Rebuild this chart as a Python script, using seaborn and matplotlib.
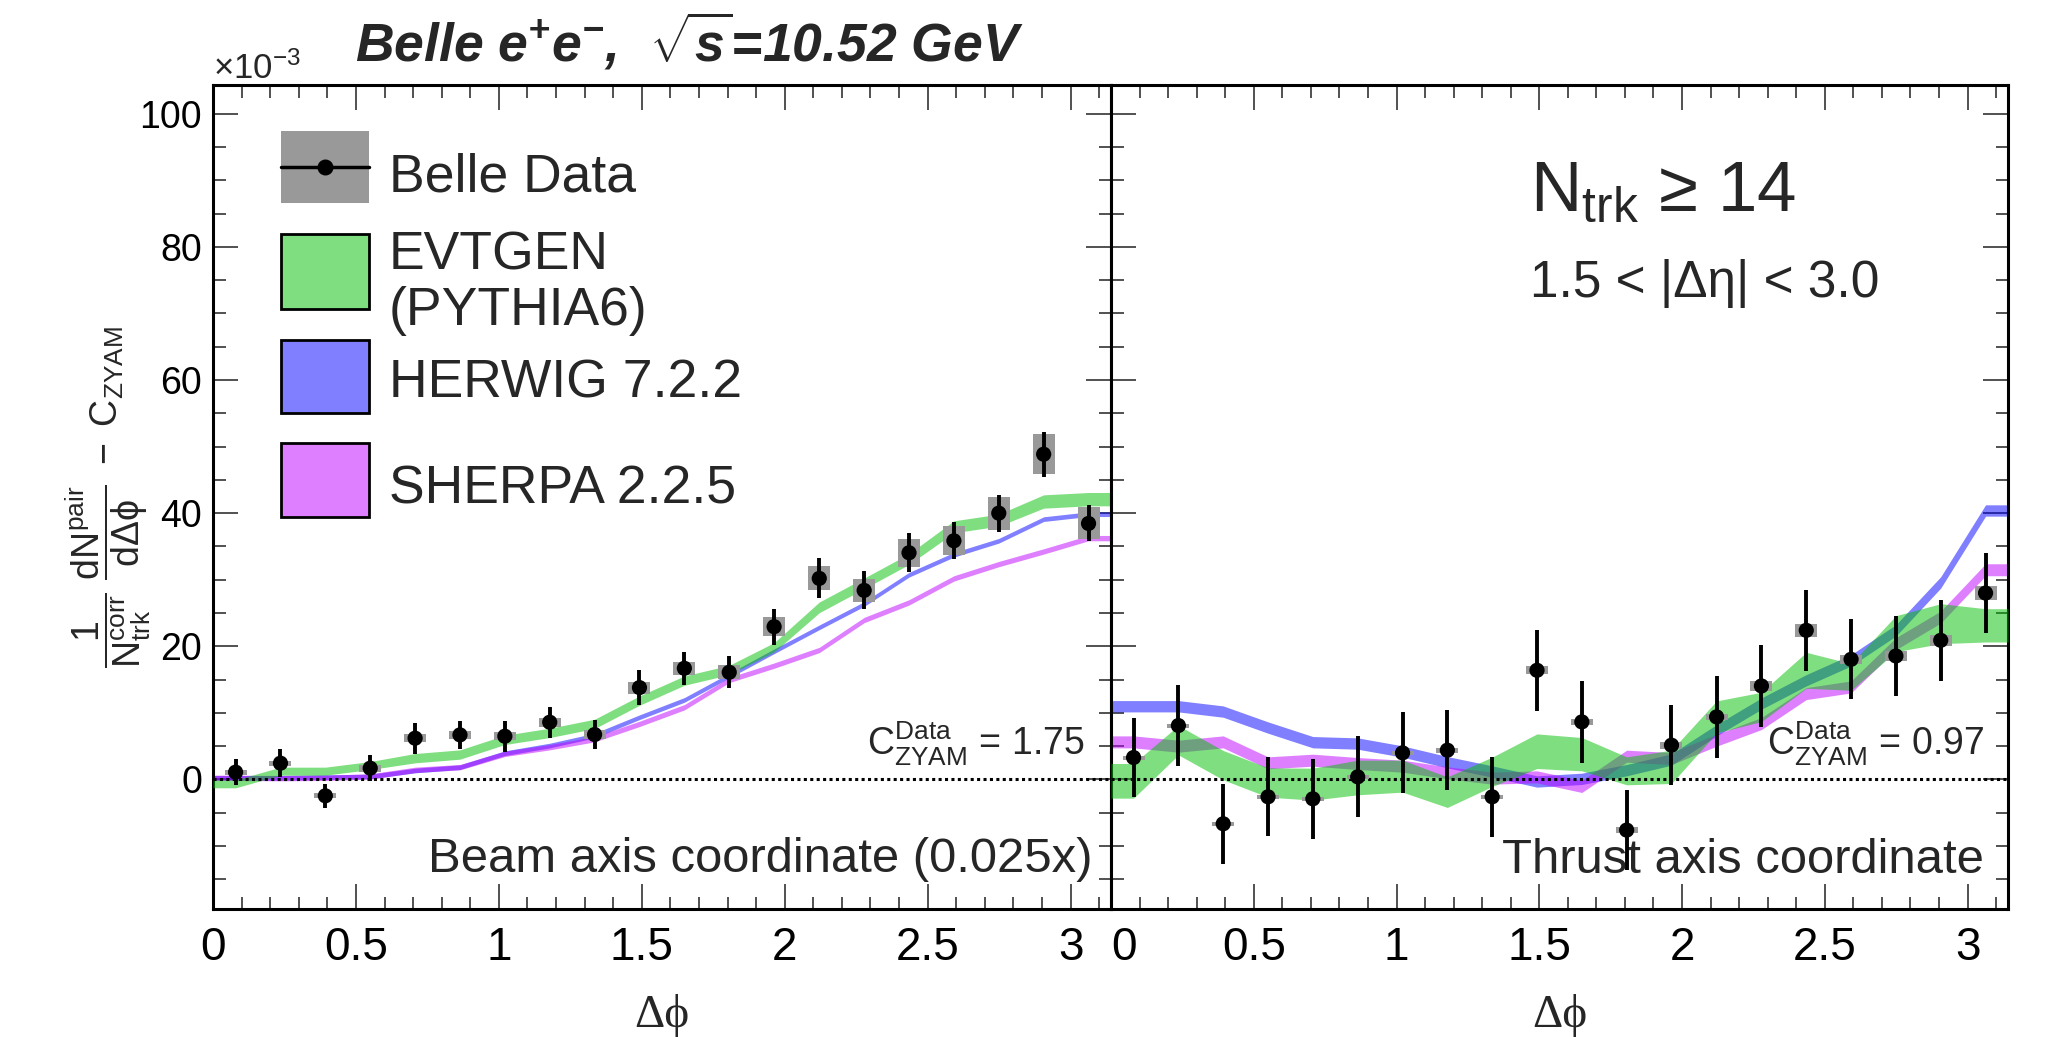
import numpy as np
import matplotlib
matplotlib.use("Agg")
import matplotlib.pyplot as plt
import seaborn as sns
from matplotlib.patches import Rectangle
from matplotlib.lines import Line2D
from matplotlib.ticker import MultipleLocator

# ---------------- data (values in units of 1e-3) ----------------
dphi = [0.079, 0.236, 0.393, 0.550, 0.707, 0.864, 1.021, 1.178, 1.335, 1.492,
        1.649, 1.806, 1.963, 2.121, 2.278, 2.435, 2.592, 2.749, 2.906, 3.063]

# Beam axis coordinate (0.025x)
beam_data = [1.1, 2.45, -2.45, 1.7, 6.2, 6.7, 6.5, 8.6, 6.75, 13.8,
             16.7, 16.1, 22.95, 30.2, 28.4, 34.05, 35.85, 40.0, 48.85, 38.45]
beam_stat = [2.0, 2.1, 1.8, 2.0, 2.3, 2.1, 2.3, 2.3, 2.2, 2.6,
             2.45, 2.4, 2.7, 3.0, 2.85, 2.9, 2.8, 2.8, 3.4, 2.7]
beam_syst = [0.4, 0.4, 0.4, 0.5, 0.6, 0.6, 0.6, 0.7, 0.7, 0.9,
             0.95, 1.05, 1.4, 1.8, 1.7, 2.1, 2.2, 2.5, 3.0, 2.4]
beam_evtgen = [-0.65, 1.25, 1.25, 2.1, 3.2, 3.75, 5.95, 7.0, 8.35, 11.85,
               14.85, 16.45, 19.85, 25.85, 29.45, 33.1, 37.95, 38.95, 41.75, 42.1]
beam_evtgen_err = [0.6, 0.6, 0.6, 0.6, 0.7, 0.7, 0.7, 0.7, 0.7, 0.7,
                   0.7, 0.7, 0.7, 0.8, 0.8, 0.8, 0.9, 0.9, 1.0, 1.0]
beam_herwig = [0.25, 0.25, 0.35, 0.45, 1.35, 1.85, 3.95, 5.1, 6.6, 9.35,
               11.95, 15.6, 19.25, 22.85, 26.35, 30.75, 33.75, 35.85, 39.1, 39.85]
beam_herwig_err = [0.35] * 20
beam_sherpa = [0.25, 0.2, 0.25, 0.45, 1.45, 1.85, 3.85, 4.85, 6.05, 8.35,
               10.85, 14.95, 17.1, 19.45, 23.95, 26.6, 30.2, 32.35, 34.25, 36.25]
beam_sherpa_err = [0.4] * 20

# Thrust axis coordinate
thr_data = [3.3, 8.1, -6.65, -2.6, -2.9, 0.4, 4.0, 4.4, -2.6, 16.4,
            8.65, -7.6, 5.15, 9.4, 14.05, 22.4, 18.05, 18.55, 20.9, 28.0]
thr_stat = [6.0, 6.1, 6.0, 5.95, 6.05, 6.1, 6.1, 6.05, 6.05, 6.1,
            6.1, 6.0, 6.0, 6.1, 6.1, 6.05, 6.0, 6.0, 6.05, 6.0]
thr_syst = [0.3, 0.3, 0.3, 0.3, 0.3, 0.3, 0.3, 0.4, 0.3, 0.6,
            0.5, 0.4, 0.5, 0.5, 0.7, 1.0, 0.7, 0.8, 0.8, 1.0]
thr_evtgen = [-0.2, 5.9, 2.15, -0.45, -0.7, 0.3, 0.5, -1.9, 1.15, 4.25,
              3.8, 1.3, 1.9, 9.4, 10.9, 16.4, 15.4, 21.9, 23.4, 23.15]
thr_evtgen_err = [2.6, 2.2, 2.2, 2.2, 2.4, 2.6, 2.4, 2.3, 2.2, 2.6,
                  2.5, 2.1, 2.5, 2.4, 2.2, 2.7, 2.0, 2.7, 3.0, 2.5]
thr_herwig = [11.0, 11.0, 10.2, 7.8, 5.6, 5.4, 4.2, 2.6, 1.2, -0.3,
              0.1, 1.4, 3.0, 7.4, 11.4, 14.9, 17.9, 22.4, 29.6, 40.4]
thr_herwig_err = [0.85] * 20
thr_sherpa = [5.65, 5.0, 5.65, 2.5, 2.9, 2.4, 2.0, 1.0, 0.2, 0.4,
              -1.05, 3.5, 3.15, 5.9, 8.4, 12.9, 13.9, 20.4, 24.4, 31.5]
thr_sherpa_err = [0.9] * 20

czyam_beam = "1.75"
czyam_thr = "0.97"
xtick_vals = [0, 0.5, 1, 1.5, 2, 2.5, 3]
xtick_text = ["0", "0.5", "1", "1.5", "2", "2.5", "3"]
ytick_vals = [0, 20, 40, 60, 80, 100]

COL_EVT = (0.0, 0.75, 0.0)
COL_HER = (0.0, 0.0, 1.0)
COL_SHE = (0.75, 0.0, 1.0)
COL_SYS = "#999999"

# ---------------- style ----------------
sns.set_theme(style="ticks")
plt.rcParams["font.family"] = ["Liberation Sans", "DejaVu Sans"]
plt.rcParams["mathtext.fontset"] = "custom"
plt.rcParams["mathtext.rm"] = "Liberation Sans"
plt.rcParams["mathtext.it"] = "Liberation Sans"
plt.rcParams["mathtext.sf"] = "Liberation Sans"
plt.rcParams["mathtext.bf"] = "Liberation Sans:bold:italic"
plt.rcParams["mathtext.default"] = "regular"

W, H = 2045, 1037
fig = plt.figure(figsize=(W / 100, H / 100), dpi=100)
fig.patch.set_facecolor("white")


def fx(px):
    return px / W


def fy(py):
    return 1 - py / H


X0, XM, X1, YT, YB = 213, 1111, 2008, 85, 909
axL = fig.add_axes([fx(X0), fy(YB), (XM - X0) / W, (YB - YT) / H])
axR = fig.add_axes([fx(XM), fy(YB), (X1 - XM) / W, (YB - YT) / H])


def draw_panel(ax, y, stat, syst, models):
    x = np.asarray(dphi)
    x_ext = np.concatenate([[0.0], x, [np.pi]])
    for z, (vals, err, col) in enumerate(models):
        v = np.asarray(vals, float)
        e = np.asarray(err, float)
        v_ext = np.concatenate([[v[0]], v, [v[-1]]])
        e_ext = np.concatenate([[e[0]], e, [e[-1]]])
        ax.fill_between(x_ext, v_ext - e_ext, v_ext + e_ext, color=col,
                        alpha=0.5, linewidth=0, zorder=1 + z)
    ax.axhline(0, color="black", linestyle=(0, (1, 1.1)), linewidth=2.2, zorder=5)
    y = np.asarray(y, float)
    syst = np.asarray(syst, float)
    ax.bar(x, 2 * syst, bottom=y - syst, width=0.077, color=COL_SYS,
           linewidth=0, zorder=6)
    ax.errorbar(x, y, yerr=stat, fmt="none", ecolor="black", elinewidth=2.8,
                capsize=0, zorder=7)
    sns.scatterplot(x=x, y=y, ax=ax, color="black", s=120, edgecolor="none",
                    zorder=8, legend=False)


draw_panel(axL, beam_data, beam_stat, beam_syst,
           [(beam_herwig, beam_herwig_err, COL_HER),
            (beam_sherpa, beam_sherpa_err, COL_SHE),
            (beam_evtgen, beam_evtgen_err, COL_EVT)])
draw_panel(axR, thr_data, thr_stat, thr_syst,
           [(thr_herwig, thr_herwig_err, COL_HER),
            (thr_sherpa, thr_sherpa_err, COL_SHE),
            (thr_evtgen, thr_evtgen_err, COL_EVT)])

for ax in (axL, axR):
    ax.set_facecolor("white")
    ax.set_xlim(0, np.pi)
    ax.set_ylim(-19.45, 104.3)
    ax.set_xticks(xtick_vals, labels=xtick_text)
    ax.set_yticks(ytick_vals)
    ax.xaxis.set_minor_locator(MultipleLocator(0.1))
    ax.yaxis.set_minor_locator(MultipleLocator(5))
    ax.tick_params(which="both", direction="in", top=True, bottom=True,
                   left=True, right=True, color="#222222", width=1.1)
    ax.tick_params(which="major", length=18)
    ax.tick_params(which="minor", length=9)
    ax.tick_params(axis="x", labelsize=33, pad=12, labelcolor="black")
    ax.tick_params(axis="y", labelsize=27, pad=8, labelcolor="black")
    for s in ax.spines.values():
        s.set_linewidth(2.2)
        s.set_color("black")
        s.set_visible(True)
    ax.grid(False)
    ax.set_xlabel("Δϕ", fontsize=34, family=["Liberation Serif", "DejaVu Serif"])
    ax.xaxis.label.set_va("baseline")
    ax.xaxis.set_label_coords(0.5, (YB - 1027) / (YB - YT))

axR.tick_params(axis="y", labelleft=False)
axR.get_xticklabels()[0].set_horizontalalignment("left")

axL.set_ylabel(r"$\dfrac{1}{N_{trk}^{corr}}\ \dfrac{dN^{pair}}{d\Delta\phi}\ -\ C_{ZYAM}$",
               fontsize=27)
axL.yaxis.set_label_coords((153 - X0) / (XM - X0), 0.5)

# ---------------- legend (manual, ROOT style) ----------------
def lx(px):
    return (px - X0) / (XM - X0)


def ly(py):
    return (YB - py) / (YB - YT)


box_x0, box_x1 = 281, 369
rows = [(131, 203, None), (234, 309, COL_EVT), (340, 413, COL_HER), (443, 517, COL_SHE)]
for top, bot, col in rows:
    if col is None:
        axL.add_patch(Rectangle((lx(box_x0), ly(bot)), lx(box_x1) - lx(box_x0),
                                ly(top) - ly(bot), transform=axL.transAxes,
                                facecolor=COL_SYS, edgecolor="none", zorder=10,
                                clip_on=False))
    else:
        axL.add_patch(Rectangle((lx(box_x0), ly(bot)), lx(box_x1) - lx(box_x0),
                                ly(top) - ly(bot), transform=axL.transAxes,
                                facecolor=(*col, 0.5), edgecolor="black",
                                linewidth=2.0, zorder=10, clip_on=False))
axL.add_line(Line2D([lx(box_x0), lx(box_x1)], [ly(167), ly(167)],
                    transform=axL.transAxes, color="black", linewidth=2.5, zorder=11))
axL.add_line(Line2D([lx(325)], [ly(167)], transform=axL.transAxes, marker="o",
                    markersize=10.5, color="black", zorder=12))
leg_fs = 38.5
for txt, base in [("Belle Data", 192), ("EVTGEN", 270), ("(PYTHIA6)", 325),
                  ("HERWIG 7.2.2", 398), ("SHERPA 2.2.5", 503)]:
    axL.text(lx(389), ly(base), txt, transform=axL.transAxes, fontsize=leg_fs,
             ha="left", va="baseline", zorder=12)

# ---------------- annotations ----------------
fig.text(fx(355), fy(61), r"Belle e$^{\mathbf{+}}$e$^{\mathbf{-}}$,  $\mathbf{\sqrt{s}}$=10.52 GeV",
         fontsize=38.5, fontweight="bold", style="italic", ha="left", va="baseline")
fig.text(fx(213), fy(79), r"×10$^{-3}$", fontsize=25, ha="left", va="baseline")

axR.text(fx(1530), fy(211), r"$N_{trk}$ ≥ 14", transform=fig.transFigure,
         fontsize=51, ha="left", va="baseline")
axR.text(fx(1530), fy(297), "1.5 < |Δη| < 3.0", transform=fig.transFigure,
         fontsize=37, ha="left", va="baseline")

axL.text(fx(1085), fy(755), r"$C^{Data}_{ZYAM}$ = " + czyam_beam,
         transform=fig.transFigure, fontsize=27, ha="right", va="baseline", zorder=3)
axR.text(fx(1984), fy(755), r"$C^{Data}_{ZYAM}$ = " + czyam_thr,
         transform=fig.transFigure, fontsize=27, ha="right", va="baseline", zorder=3)
axL.text(fx(1093), fy(872), "Beam axis coordinate (0.025x)",
         transform=fig.transFigure, fontsize=35.3, ha="right", va="baseline", zorder=3)
axR.text(fx(1984), fy(873), "Thrust axis coordinate",
         transform=fig.transFigure, fontsize=35.3, ha="right", va="baseline", zorder=3)

fig.savefig("out.png", dpi=100, facecolor="white")
